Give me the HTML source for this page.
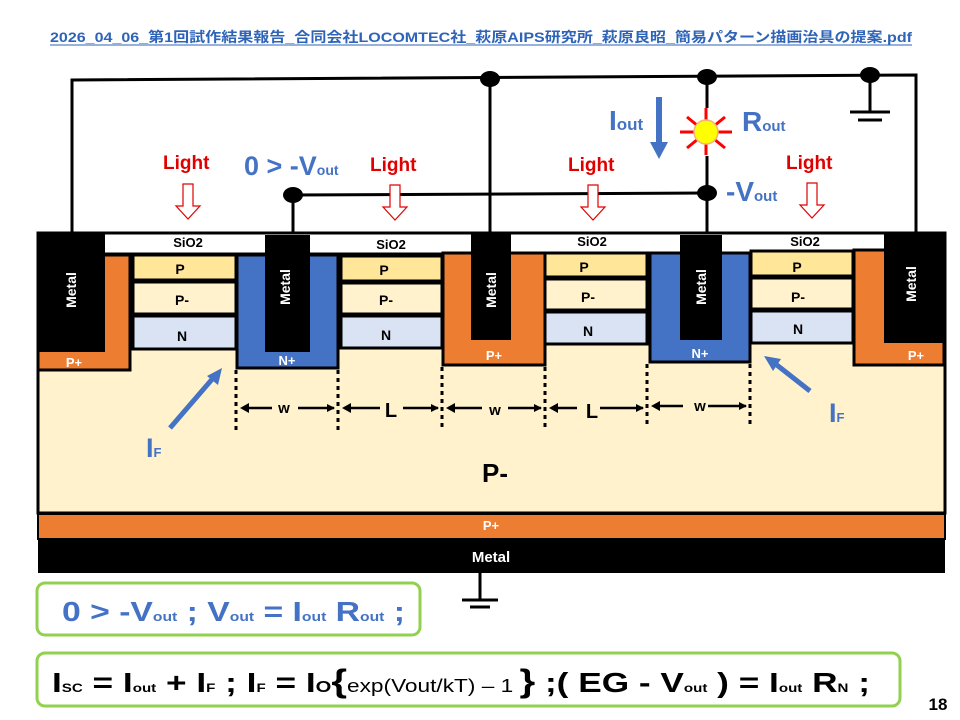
<!DOCTYPE html>
<html><head><meta charset="utf-8"><style>
html,body{margin:0;padding:0;background:#fff;}
svg{display:block;font-family:"Liberation Sans","Noto Sans CJK JP",sans-serif;font-weight:bold;}
</style></head><body>
<svg width="960" height="720" viewBox="0 0 960 720" xmlns="http://www.w3.org/2000/svg">
<defs>
<marker id="ah" markerWidth="8" markerHeight="8" refX="7" refY="4" orient="auto" markerUnits="userSpaceOnUse"><path d="M0,0 L8,4 L0,8 z" fill="#000"/></marker>
</defs>
<!-- title -->
<text x="50" y="42" font-size="14" fill="#2E64B8" textLength="862" lengthAdjust="spacingAndGlyphs" font-family="Liberation Sans, Noto Sans CJK JP, sans-serif">2026_04_06_第1回試作結果報告_合同会社LOCOMTEC社_萩原AIPS研究所_萩原良昭_簡易パターン描画治具の提案.pdf</text>
<line x1="50" y1="45" x2="912" y2="45" stroke="#2E64B8" stroke-width="1"/>

<!-- chip body -->
<rect x="38" y="233" width="907" height="280" fill="#FFF2CC" stroke="#000" stroke-width="3"/>
<rect x="38" y="233" width="907" height="21" fill="#fff" stroke="#000" stroke-width="3"/>
<rect x="38" y="514" width="907" height="25" fill="#ED7D31" stroke="#000" stroke-width="2"/>
<rect x="38" y="540" width="907" height="33" fill="#000"/>
<text x="491" y="530" text-anchor="middle" font-size="13" fill="#fff">P+</text>
<text x="491" y="562" text-anchor="middle" font-size="15" fill="#fff">Metal</text>

<!-- P+ wells -->
<rect x="38" y="255" width="92" height="115" fill="#ED7D31" stroke="#000" stroke-width="3"/>
<rect x="443" y="253" width="102" height="112" fill="#ED7D31" stroke="#000" stroke-width="3"/>
<rect x="854" y="250" width="90" height="115" fill="#ED7D31" stroke="#000" stroke-width="3"/>
<!-- N+ wells -->
<rect x="237" y="255" width="101" height="113" fill="#4472C4" stroke="#000" stroke-width="3"/>
<rect x="650" y="253" width="100" height="109" fill="#4472C4" stroke="#000" stroke-width="3"/>

<!-- stacks -->
<g stroke="#000" stroke-width="3">
<rect x="133" y="255" width="103" height="25" fill="#FFE699"/>
<rect x="133" y="282" width="103" height="32" fill="#FFF2CC"/>
<rect x="133" y="316" width="103" height="33" fill="#DAE3F3"/>
<rect x="341" y="256" width="101" height="25" fill="#FFE699"/>
<rect x="341" y="283" width="101" height="31" fill="#FFF2CC"/>
<rect x="341" y="316" width="101" height="32" fill="#DAE3F3"/>
<rect x="545" y="253" width="102" height="24" fill="#FFE699"/>
<rect x="545" y="279" width="102" height="31" fill="#FFF2CC"/>
<rect x="545" y="312" width="102" height="32" fill="#DAE3F3"/>
<rect x="751" y="251" width="102" height="25" fill="#FFE699"/>
<rect x="751" y="278" width="102" height="31" fill="#FFF2CC"/>
<rect x="751" y="311" width="102" height="32" fill="#DAE3F3"/>
</g>
<g font-size="14" fill="#000" text-anchor="middle">
<text x="180" y="274">P</text><text x="182" y="305">P-</text><text x="182" y="341">N</text>
<text x="384" y="275">P</text><text x="386" y="305">P-</text><text x="386" y="340">N</text>
<text x="584" y="272">P</text><text x="588" y="302">P-</text><text x="588" y="336">N</text>
<text x="797" y="272">P</text><text x="798" y="302">P-</text><text x="798" y="334">N</text>
<text x="188" y="247" font-size="13">SiO2</text>
<text x="391" y="249" font-size="13">SiO2</text>
<text x="592" y="246" font-size="13">SiO2</text>
<text x="805" y="246" font-size="13">SiO2</text>
</g>
<!-- metals -->
<rect x="37" y="232" width="68" height="120" fill="#000"/>
<rect x="265" y="235" width="45" height="117" fill="#000"/>
<rect x="471" y="233" width="40" height="107" fill="#000"/>
<rect x="680" y="235" width="42" height="105" fill="#000"/>
<rect x="884" y="234" width="61" height="109" fill="#000"/>
<g font-size="14" fill="#fff" text-anchor="middle">
<text transform="translate(76,290) rotate(-90)">Metal</text>
<text transform="translate(290,287) rotate(-90)">Metal</text>
<text transform="translate(496,290) rotate(-90)">Metal</text>
<text transform="translate(706,287) rotate(-90)">Metal</text>
<text transform="translate(916,284) rotate(-90)">Metal</text>
<text x="74" y="367" font-size="13">P+</text>
<text x="287" y="365" font-size="13">N+</text>
<text x="494" y="360" font-size="13">P+</text>
<text x="700" y="358" font-size="13">N+</text>
<text x="916" y="360" font-size="13">P+</text>
</g>

<!-- wires -->
<g stroke="#000" stroke-width="3" fill="none">
<polyline points="72,233 72,80 916,75 916,233"/>
<line x1="490" y1="79" x2="490" y2="233"/>
<line x1="707" y1="77" x2="707" y2="233"/>
<polyline points="293,233 293,195 707,193"/>
<line x1="870" y1="75" x2="870" y2="112"/>
<line x1="850" y1="112" x2="890" y2="112"/>
<line x1="858" y1="120" x2="882" y2="120"/>
<line x1="480" y1="573" x2="480" y2="600"/>
<line x1="462" y1="600" x2="498" y2="600"/>
<line x1="470" y1="607" x2="490" y2="607"/>
</g>
<g fill="#000">
<ellipse cx="490" cy="79" rx="10" ry="8"/>
<ellipse cx="707" cy="77" rx="10" ry="8"/>
<ellipse cx="870" cy="75" rx="10" ry="8"/>
<ellipse cx="293" cy="195" rx="10" ry="8"/>
<ellipse cx="707" cy="193" rx="10" ry="8"/>
</g>
<!-- sun -->
<g stroke="#FF0000" stroke-width="3">
<line x1="707" y1="108" x2="707" y2="156" stroke="#fff" stroke-width="4"/>
<line x1="706" y1="108" x2="706" y2="155"/>
<line x1="680" y1="132" x2="732" y2="132"/>
<line x1="687" y1="117" x2="725" y2="148"/>
<line x1="687" y1="148" x2="725" y2="117"/>
</g>
<circle cx="706" cy="132" r="12" fill="#FFFF00" stroke="#F4B183" stroke-width="1.5"/>

<!-- light labels and hollow arrows -->
<g font-size="19" fill="#E00000">
<text x="163" y="169">Light</text><text x="370" y="171">Light</text>
<text x="568" y="171">Light</text><text x="786" y="169">Light</text>
</g>
<g fill="#fff" stroke="#E00000" stroke-width="1.2">
<path d="M183,184 h10 v22 h7 l-12,13 l-12,-13 h7 z"/>
<path d="M390,185 h10 v22 h7 l-12,13 l-12,-13 h7 z"/>
<path d="M588,185 h10 v22 h7 l-12,13 l-12,-13 h7 z"/>
<path d="M807,183 h10 v22 h7 l-12,13 l-12,-13 h7 z"/>
</g>

<!-- blue labels -->
<g fill="#4472C4">
<text x="244" y="175" font-size="27">0 &gt; -V<tspan font-size="14">out</tspan></text>
<text x="609" y="130" font-size="28">I<tspan font-size="17">out</tspan></text>
<text x="742" y="131" font-size="28">R<tspan font-size="15">out</tspan></text>
<text x="726" y="201" font-size="28">-V<tspan font-size="15">out</tspan></text>
<path d="M656,97 h6 v45 h6 l-9,17 l-9,-17 h6 z"/>
<text x="146" y="457" font-size="27">I<tspan font-size="13">F</tspan></text>
<text x="829" y="422" font-size="27">I<tspan font-size="13">F</tspan></text>
</g>
<g stroke="#4472C4" stroke-width="5">
<line x1="170" y1="428" x2="214" y2="377"/>
<line x1="810" y1="391" x2="773" y2="362"/>
</g>
<g fill="#4472C4">
<path d="M222,368 l-4,17 l-11,-9 z"/>
<path d="M764,356 l17,3 l-8,12 z"/>
</g>

<!-- dimension lines -->
<g stroke="#000" stroke-width="3" stroke-dasharray="4,4">
<line x1="236" y1="370" x2="236" y2="430"/>
<line x1="338" y1="370" x2="338" y2="430"/>
<line x1="442" y1="367" x2="442" y2="430"/>
<line x1="545" y1="367" x2="545" y2="428"/>
<line x1="647" y1="364" x2="647" y2="428"/>
<line x1="750" y1="364" x2="750" y2="428"/>
</g>
<g stroke="#000" stroke-width="2.5">
<line x1="244" y1="408" x2="272" y2="408"/>
<line x1="298" y1="408" x2="334" y2="408" marker-end="url(#ah)"/>
<line x1="346" y1="408" x2="380" y2="408"/>
<line x1="403" y1="408" x2="438" y2="408" marker-end="url(#ah)"/>
<line x1="450" y1="408" x2="482" y2="408"/>
<line x1="508" y1="408" x2="541" y2="408" marker-end="url(#ah)"/>
<line x1="553" y1="408" x2="577" y2="408"/>
<line x1="600" y1="408" x2="643" y2="408" marker-end="url(#ah)"/>
<line x1="655" y1="406" x2="683" y2="406"/>
<line x1="708" y1="406" x2="746" y2="406" marker-end="url(#ah)"/>
</g>
<g fill="#000">
<path d="M240,408 l9,-5 v10 z"/><path d="M342,408 l9,-5 v10 z"/><path d="M446,408 l9,-5 v10 z"/>
<path d="M549,408 l9,-5 v10 z"/><path d="M651,406 l9,-5 v10 z"/>
</g>
<g font-size="15" text-anchor="middle">
<text x="284" y="413">w</text><text x="391" y="417" font-size="20">L</text>
<text x="495" y="415">w</text><text x="592" y="418" font-size="20">L</text>
<text x="700" y="411">w</text>
</g>
<text x="495" y="482" font-size="26" text-anchor="middle">P-</text>

<!-- formula boxes -->
<rect x="37" y="583" width="383" height="52" rx="8" fill="#fff" stroke="#92D050" stroke-width="3"/>
<text x="62" y="621" font-size="28" fill="#4472C4" textLength="343" lengthAdjust="spacingAndGlyphs">0 &gt; -V<tspan font-size="13">out</tspan>  ; V<tspan font-size="13">out</tspan> = I<tspan font-size="13">out</tspan> R<tspan font-size="13">out</tspan>  ;</text>
<rect x="37" y="653" width="863" height="53" rx="8" fill="#fff" stroke="#92D050" stroke-width="3"/>
<text x="52" y="692" font-size="28" fill="#000" textLength="818" lengthAdjust="spacingAndGlyphs">I<tspan font-size="12">SC</tspan> = I<tspan font-size="12">out</tspan> +  I<tspan font-size="12">F</tspan> ; I<tspan font-size="12">F</tspan> = I<tspan font-size="16">O</tspan><tspan font-size="32">{</tspan><tspan font-size="18" font-weight="normal">exp(Vout/kT) – 1 </tspan><tspan font-size="32">}</tspan> ;( EG  - V<tspan font-size="12">out</tspan>  ) = I<tspan font-size="12">out</tspan>  R<tspan font-size="12">N</tspan> ;</text>
<text x="938" y="710" font-size="17" text-anchor="middle">18</text>
</svg>
</body></html>
